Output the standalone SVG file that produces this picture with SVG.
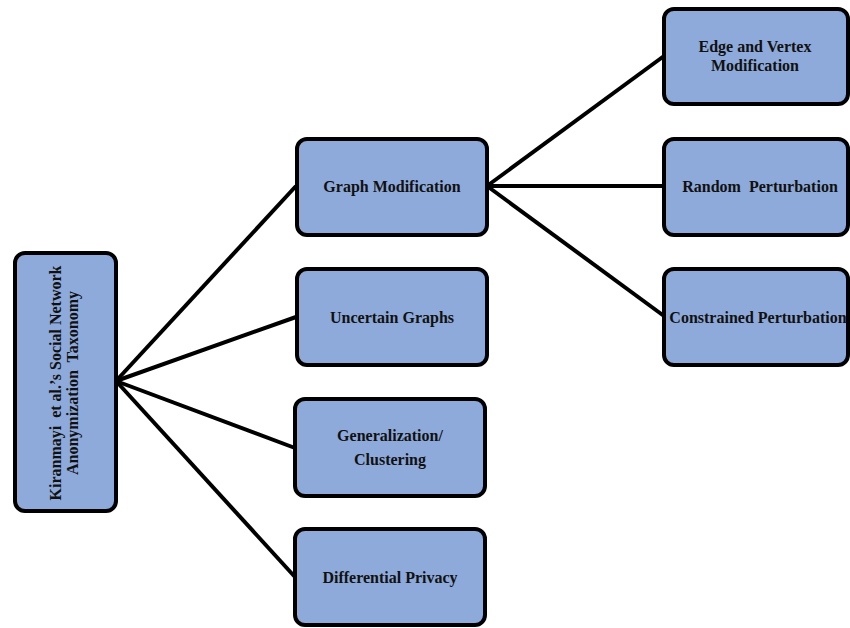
<svg xmlns="http://www.w3.org/2000/svg" width="850" height="628" viewBox="0 0 850 628">
<style>
.box{fill:#8eaadb;stroke:#000;stroke-width:4}
.t{font-family:"Liberation Serif","Times New Roman",serif;font-weight:bold;font-size:16px;fill:#111;text-anchor:middle}
.c{stroke:#000;stroke-width:4;fill:none}
</style>
<rect width="850" height="628" fill="#fff"/>
<g id="connectors">
<line class="c" x1="116" y1="381" x2="296" y2="186"/>
<line class="c" x1="116" y1="381" x2="296" y2="317"/>
<line class="c" x1="116" y1="381" x2="295" y2="448"/>
<line class="c" x1="116" y1="381" x2="295" y2="577"/>
<line class="c" x1="487" y1="186" x2="664" y2="56"/>
<line class="c" x1="487" y1="186" x2="664" y2="186"/>
<line class="c" x1="487" y1="186" x2="664" y2="316"/>
</g>
<g id="root">
<rect class="box" x="15" y="253" width="101" height="258" rx="10"/>
<text class="t" xml:space="preserve" transform="translate(61,383) rotate(-90)">Kiranmayi  et al.’s Social Network</text>
<text class="t" xml:space="preserve" transform="translate(78,383) rotate(-90)">Anonymization  Taxonomy</text>
</g>
<g id="graph-modification">
<rect class="box" x="297" y="139" width="190" height="96" rx="10"/>
<text class="t" x="392" y="192">Graph Modification</text>
</g>
<g id="uncertain-graphs">
<rect class="box" x="297" y="269" width="190" height="96" rx="10"/>
<text class="t" x="392" y="323">Uncertain Graphs</text>
</g>
<g id="generalization">
<rect class="box" x="295" y="399" width="190" height="97" rx="10"/>
<text class="t" x="390" y="441">Generalization/</text>
<text class="t" x="390" y="465">Clustering</text>
</g>
<g id="differential-privacy">
<rect class="box" x="295" y="529" width="190" height="96" rx="10"/>
<text class="t" x="390" y="583">Differential Privacy</text>
</g>
<g id="edge-vertex">
<rect class="box" x="664" y="9" width="184" height="95" rx="10"/>
<text class="t" x="755" y="52">Edge and Vertex</text>
<text class="t" x="755" y="71">Modification</text>
</g>
<g id="random-perturbation">
<rect class="box" x="664" y="139" width="184" height="96" rx="10"/>
<text class="t" xml:space="preserve" x="760" y="192">Random  Perturbation</text>
</g>
<g id="constrained-perturbation">
<rect class="box" x="664" y="269" width="184" height="96" rx="10"/>
<text class="t" x="758" y="323">Constrained Perturbation</text>
</g>
</svg>
